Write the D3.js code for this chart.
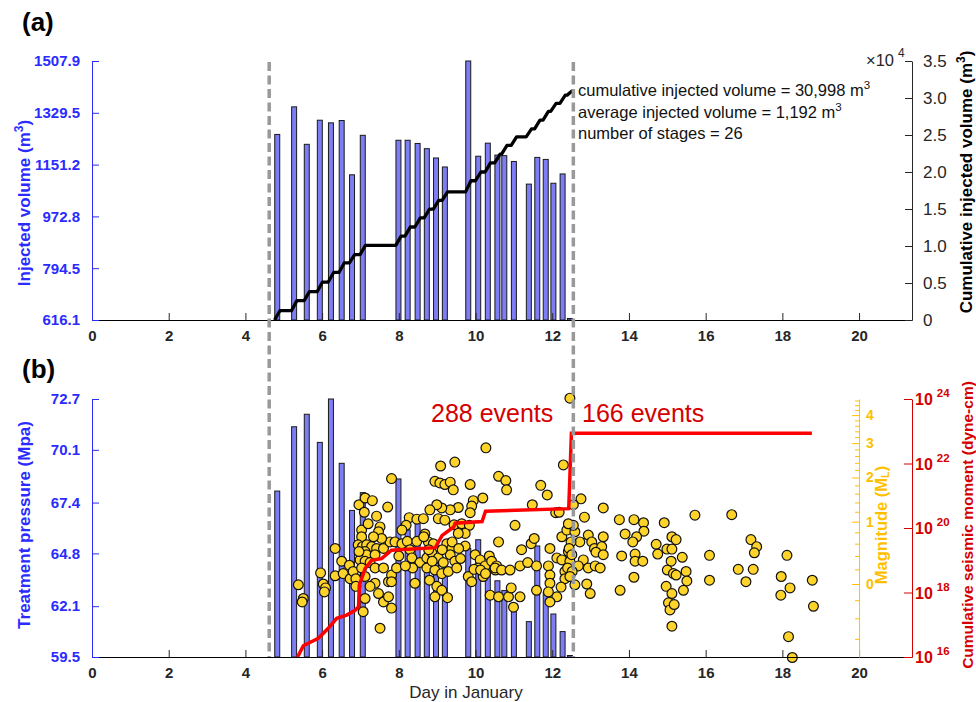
<!DOCTYPE html>
<html>
<head>
<meta charset="utf-8">
<script src="https://cdn.jsdelivr.net/npm/d3@7"></script>
<style>
  body { margin: 0; background: #fff; }
  text { font-family: "Liberation Sans", Arial, sans-serif; }
</style>
</head>
<body>
<div id="viz"></div>
<script>
// stage data (one entry per frac stage)
const stageDay = [4.83, 5.27, 5.60, 5.94, 6.23, 6.51, 6.78, 7.06, 7.99, 8.23, 8.49, 8.73, 8.97,
                  9.20, 9.81, 10.07, 10.32, 10.57, 10.75, 11.00, 11.39, 11.61, 11.83, 12.03, 12.27, 12.46];
const stageVolume = [1255, 1350, 1221, 1304, 1295, 1303, 1116, 1252, 1235, 1235, 1224, 1206, 1174,
                     1143, 1507.9, 1180, 1225, 1184, 1182, 1162, 1084, 1176, 1169, 1087, 1119, 616.1];
const stagePressure = [67.99, 71.28, 71.92, 70.48, 72.70, 69.41, 67.00, 67.91, 68.61, 66.0, 66.4, 65.0, 64.3,
                       64.0, 65.06, 65.50, 64.3, 63.4, 62.9, 62.2, 61.31, 65.18, 62.8, 61.7, 60.8, 59.5];

// seismic events: day and local magnitude
const eventDay = [
  5.38,5.51,5.48,5.96,6.03,6.09,6.06,6.34,6.34,6.51,6.55,6.71,6.73,6.81,6.88,6.96,7.12,7.31,7.10,7.71,
  7.81,7.42,7.03,7.20,7.51,7.47,7.03,6.94,7.05,7.16,7.29,7.12,7.42,7.60,7.77,7.55,7.34,7.16,7.38,6.99,
  7.12,7.25,7.03,7.38,7.60,7.12,7.38,7.25,7.73,7.47,7.60,7.73,7.12,7.07,7.51,7.81,7.81,6.96,6.88,
  10.27,9.09,9.46,8.94,9.07,9.20,9.34,9.42,9.86,10.19,9.94,9.90,9.86,9.55,9.34,9.12,8.99,8.81,9.03,9.20,
  9.44,9.64,9.84,9.73,9.55,8.27,8.47,8.64,8.19,8.08,7.90,8.08,8.22,8.47,8.68,8.77,8.90,9.25,9.73,9.38,
  8.29,8.34,8.55,8.73,8.86,9.03,9.16,9.34,9.46,9.61,8.73,8.94,9.12,9.29,9.51,8.36,7.94,7.81,8.42,8.80,
  8.99,9.12,8.94,9.27,9.81,9.90,9.99,10.12,10.07,10.25,10.36,10.42,10.55,10.20,10.38,10.60,10.60,10.60,
  9.96,10.13,10.26,10.52,8.87,8.17,8.00,8.78,9.13,8.65,9.39,9.56,
  12.46,10.79,10.81,11.70,11.87,11.48,12.29,12.09,12.18,12.75,12.55,12.84,13.33,11.03,11.20,11.45,11.53,11.94,12.25,12.38,
  12.59,12.72,12.94,13.03,13.10,13.29,13.33,12.12,12.25,12.42,12.46,12.81,12.68,12.94,13.12,13.25,10.51,10.68,10.90,11.16,
  11.36,11.59,11.90,11.94,12.33,12.33,11.94,12.23,12.59,12.90,12.99,10.86,10.99,11.16,10.93,11.59,11.90,12.12,11.94,
  12.49,12.44,12.51,12.40,12.52,12.46,12.55,12.42,
  13.75,14.13,14.38,14.39,14.20,14.10,13.90,14.92,15.72,16.68,15.12,15.23,14.71,14.99,15.12,14.75,13.81,14.16,14.16,14.36,
  15.10,15.39,16.10,17.18,17.33,17.27,18.12,15.00,15.16,15.49,15.23,15.51,15.42,14.97,15.12,15.03,15.07,15.18,15.12,14.13,
  13.77,16.10,16.85,17.24,17.05,17.97,18.20,17.96,18.78,18.81,18.16,18.26,13.14,13.33
];
const eventMag = [
  -0.01,-0.18,-0.22,0.15,0.00,-0.05,-0.10,0.52,0.11,0.32,0.14,0.26,0.07,0.17,0.07,1.35,1.50,1.44,1.19,1.30,
  1.97,1.11,0.84,0.96,0.90,0.81,0.72,0.58,0.55,0.58,0.55,0.47,0.52,0.52,0.63,0.69,0.72,0.42,0.42,0.34,
  0.32,0.30,0.22,0.22,0.22,0.10,0.01,-0.03,0.03,-0.12,-0.22,-0.16,-0.18,-0.33,-0.50,-0.29,0.12,0.47,-0.03,
  2.85,2.31,2.42,1.90,1.86,1.82,1.88,1.69,1.82,1.50,1.44,1.32,1.18,1.29,1.24,1.28,1.35,1.24,1.06,1.03,
  0.94,0.96,0.93,0.78,0.78,1.08,1.05,1.06,0.93,0.84,0.63,0.60,0.64,0.64,0.77,0.63,0.60,0.60,0.56,0.52,
  0.50,0.37,0.30,0.37,0.45,0.37,0.30,0.42,0.32,0.36,0.22,0.19,0.14,0.17,0.22,0.22,0.22,0.03,0.01,0.05,
  -0.03,-0.08,-0.16,-0.17,0.10,0.03,0.42,0.34,0.22,0.25,0.40,0.32,0.25,0.10,-0.14,-0.16,0.63,2.03,
  0.20,0.19,0.14,0.19,0.32,0.25,0.40,0.50,0.50,0.72,0.63,0.52,
  4.70,1.92,1.69,1.80,1.57,1.35,2.34,1.18,1.19,1.48,1.35,1.09,1.28,0.93,0.50,0.60,0.69,0.52,0.72,0.84,
  0.81,0.63,0.75,0.63,0.52,0.55,0.72,0.37,0.34,0.47,0.32,0.34,0.25,0.22,0.25,0.22,0.22,0.19,0.19,0.25,
  0.30,0.25,0.25,0.12,0.17,0.07,0.01,-0.04,-0.01,0.00,-0.12,-0.16,-0.28,-0.16,-0.05,-0.08,-0.10,-0.16,-0.22,
  0.63,0.52,0.42,0.22,0.17,0.10,0.93,0.96,
  1.04,1.04,0.98,0.82,0.72,0.63,0.77,0.98,1.13,1.14,0.72,0.67,0.59,0.51,0.51,0.43,0.40,0.43,0.32,0.32,
  0.32,0.38,0.41,0.67,0.55,0.45,0.41,0.19,0.14,0.17,0.12,0.04,-0.08,-0.03,-0.12,-0.23,-0.31,-0.25,-0.48,0.09,
  -0.08,0.05,0.20,0.20,0.03,0.10,-0.05,-0.14,0.05,-0.27,-0.58,-0.76,0.46,0.42
];

// cumulative seismic moment (log10 dyne-cm)
const momentDay = [5.36, 5.51, 5.90, 6.16, 6.38, 6.64, 6.86, 6.95, 6.97, 7.12, 7.29, 7.55, 7.81,
                   8.95, 9.13, 9.43, 9.47, 10.17, 10.26, 12.43, 12.50, 18.77];
const momentLog = [16.0, 16.35, 16.58, 16.89, 17.2, 17.3, 17.45, 17.56, 18.23, 18.74, 19.0, 19.05, 19.31,
                   19.39, 19.77, 20.03, 20.15, 20.2, 20.52, 20.6, 22.94, 22.94];

// reference lines and tick labels
const dashDays = [4.62, 12.55];
const dayTicks = [0, 2, 4, 6, 8, 10, 12, 14, 16, 18, 20];
const volTicks = [616.1, 794.5, 972.8, 1151.2, 1329.5, 1507.9];
const cumTicks = [0, 5000, 10000, 15000, 20000, 25000, 30000, 35000];
const cumTickLabels = ["0", "0.5", "1.0", "1.5", "2.0", "2.5", "3.0", "3.5"];
const presTicks = [59.5, 62.1, 64.8, 67.4, 70.1, 72.7];
const magTicks = [0, 1, 2, 3, 4];
const magMinorTicks = [-0.6, -0.4, -0.2, 0.2, 0.4, 0.6, 0.8, 1.2, 1.4, 1.6, 1.8, 2.2, 2.4, 2.6, 2.8,
                       3.2, 3.4, 3.6, 3.8, 4.2, 4.4, 4.6];
const momentTickExp = [16, 18, 20, 22, 24];
const annotLines = [["cumulative injected volume = 30,998 m", "3"],
                    ["average injected volume = 1,192 m", "3"],
                    ["number of stages = 26", ""]];

const width = 976, height = 702;
const blue = "#2b2bff", barFill = "#7d7df5", red = "#ff0000", redText = "#d40000",
      gold = "#ffbf00", dotFill = "#ffd42a", ink = "#262626";
const magOffset = 2;   // magnitude axis is logarithmic in (M + 2)
const halfBar = 0.065, rampHalf = 0.07;

const svg = d3.select("#viz").append("svg")
  .attr("width", width).attr("height", height);

// shared x scale
const x = d3.scaleLinear().domain([0, 21.38]).range([92, 912]);

// panel scales
const yVol = d3.scaleLinear().domain([616.1, 1507.9]).range([320, 61]);
const yCum = d3.scaleLinear().domain([0, 35000]).range([320, 61]);
const yPres = d3.scaleLinear().domain([59.5, 72.7]).range([657, 399]);
const yMag = d3.scaleLog().domain([-0.756 + magOffset, 4.664 + magOffset]).range([657, 399]);
const yMom = d3.scaleLog().domain([1e16, 1e24]).range([657, 399]);

function styleAxis(g, color, bold, size) {
  g.attr("font-family", "Liberation Sans, Arial, sans-serif")
   .attr("font-size", size || 15)
   .attr("font-weight", bold ? "bold" : "normal");
  g.select(".domain").attr("stroke", color).attr("stroke-width", 1);
  g.selectAll(".tick line").attr("stroke", color);
  g.selectAll(".tick text").attr("fill", color);
  return g;
}

// ---------- panel (a) ----------
svg.append("g").selectAll("rect")
  .data(stageDay)
  .join("rect")
  .attr("x", d => x(d - halfBar))
  .attr("width", x(2 * halfBar) - x(0))
  .attr("y", (d, i) => Math.min(yVol(stageVolume[i]), 318.5))
  .attr("height", (d, i) => Math.max(320 - yVol(stageVolume[i]), 1.5))
  .attr("fill", barFill)
  .attr("stroke", "#1a1a1a")
  .attr("stroke-width", 1);

// cumulative volume as ramps through each stage
const cum = d3.cumsum(stageVolume);
const cumPts = [];
stageDay.forEach((d, i) => {
  cumPts.push([d - rampHalf, i ? cum[i - 1] : 0]);
  cumPts.push([d + rampHalf, cum[i]]);
});
svg.append("path")
  .datum(cumPts)
  .attr("fill", "none")
  .attr("stroke", "#000")
  .attr("stroke-width", 3.3)
  .attr("stroke-linejoin", "round")
  .attr("d", d3.line().x(d => x(d[0])).y(d => yCum(d[1])));

const xAxisA = styleAxis(svg.append("g")
  .attr("transform", "translate(0,320)")
  .call(d3.axisBottom(x).tickValues(dayTicks).tickSizeInner(-7).tickSizeOuter(0).tickPadding(10)),
  ink, true);
xAxisA.select(".domain").attr("stroke", "#000");

styleAxis(svg.append("g")
  .attr("transform", "translate(92,0)")
  .call(d3.axisLeft(yVol).tickValues(volTicks).tickFormat(d3.format(".1f"))
    .tickSizeInner(-7).tickSizeOuter(0).tickPadding(12)),
  blue, true);

styleAxis(svg.append("g")
  .attr("transform", "translate(912,0)")
  .call(d3.axisRight(yCum).tickValues(cumTicks).tickFormat((d, i) => cumTickLabels[i])
    .tickSizeInner(-7).tickSizeOuter(0).tickPadding(11)),
  ink, false, 17);

// x10^4 multiplier
const mult = svg.append("text").attr("x", 866).attr("y", 66)
  .attr("font-size", 16.5).attr("fill", ink).text("\u00d710");
mult.append("tspan").attr("dx", 4).attr("dy", -9).attr("font-size", 12).text("4");

// annotation
annotLines.forEach((l, i) => {
  const t = svg.append("text").attr("x", 578).attr("y", 96 + i * 21.5)
    .attr("font-size", 16.5).attr("fill", "#111").text(l[0]);
  if (l[1]) t.append("tspan").attr("dy", -7).attr("font-size", 11.5).text(l[1]);
});

// axis titles panel (a)
const tA = svg.append("text")
  .attr("transform", "translate(29.5,203) rotate(-90)")
  .attr("text-anchor", "middle").attr("font-size", 17).attr("font-weight", "bold")
  .attr("fill", blue).text("Injected volume (m");
tA.append("tspan").attr("dy", -7).attr("font-size", 12).text("3");
tA.append("tspan").attr("dy", 7).text(")");

const tC = svg.append("text")
  .attr("transform", "translate(972,182) rotate(-90)")
  .attr("text-anchor", "middle").attr("font-size", 17).attr("font-weight", "bold")
  .attr("fill", "#000").text("Cumulative injected volume (m");
tC.append("tspan").attr("dy", -7).attr("font-size", 12).text("3");
tC.append("tspan").attr("dy", 7).text(")");

svg.append("text").attr("x", 22).attr("y", 31)
  .attr("font-size", 26).attr("font-weight", "bold").attr("fill", "#000").text("(a)");

// ---------- panel (b) ----------
svg.append("g").selectAll("rect")
  .data(stageDay)
  .join("rect")
  .attr("x", d => x(d - halfBar))
  .attr("width", x(2 * halfBar) - x(0))
  .attr("y", (d, i) => Math.min(yPres(stagePressure[i]), 655.5))
  .attr("height", (d, i) => Math.max(657 - yPres(stagePressure[i]), 1.5))
  .attr("fill", barFill)
  .attr("stroke", "#1a1a1a")
  .attr("stroke-width", 1);

svg.append("g").selectAll("circle")
  .data(eventDay)
  .join("circle")
  .attr("cx", d => x(d))
  .attr("cy", (d, i) => yMag(eventMag[i] + magOffset))
  .attr("r", 4.9)
  .attr("fill", dotFill)
  .attr("stroke", "#111")
  .attr("stroke-width", 1.2);

svg.append("path")
  .datum(momentDay.map((d, i) => [d, Math.pow(10, momentLog[i])]))
  .attr("fill", "none")
  .attr("stroke", red)
  .attr("stroke-width", 3.5)
  .attr("d", d3.line().x(d => x(d[0])).y(d => yMom(d[1])));

styleAxis(svg.append("g")
  .attr("transform", "translate(0,657)")
  .call(d3.axisBottom(x).tickValues(dayTicks).tickSizeInner(-7).tickSizeOuter(0).tickPadding(10)),
  ink, true)
  .select(".domain").attr("stroke", "#000");

styleAxis(svg.append("g")
  .attr("transform", "translate(92,0)")
  .call(d3.axisLeft(yPres).tickValues(presTicks).tickFormat(d3.format(".1f"))
    .tickSizeInner(-7).tickSizeOuter(0).tickPadding(12)),
  blue, true);

// magnitude axis at day 20
const magX = x(20);
const minorG = svg.append("g")
  .attr("transform", `translate(${magX},0)`)
  .call(d3.axisRight(yMag).tickValues(magMinorTicks.map(m => m + magOffset))
    .tickFormat("").tickSizeInner(-4).tickSizeOuter(0));
minorG.select(".domain").remove();
minorG.selectAll(".tick line").attr("stroke", gold);

styleAxis(svg.append("g")
  .attr("transform", `translate(${magX},0)`)
  .call(d3.axisRight(yMag).tickValues(magTicks.map(m => m + magOffset))
    .tickFormat(d => Math.round(d - magOffset)).tickSizeInner(-7).tickSizeOuter(0).tickPadding(7)),
  gold, true, 14);

const tM = svg.append("text")
  .attr("transform", `translate(886.5,525) rotate(-90)`)
  .attr("text-anchor", "middle").attr("font-size", 16.5).attr("font-weight", "bold")
  .attr("fill", gold).text("Magnitude (M");
tM.append("tspan").attr("dy", 2).attr("font-size", 11).text("L");
tM.append("tspan").attr("dy", -2).text(")");

// moment axis
styleAxis(svg.append("g")
  .attr("transform", "translate(912,0)")
  .call(d3.axisRight(yMom).tickValues(momentTickExp.map(e => Math.pow(10, e)))
    .tickFormat("").tickSizeInner(-8).tickSizeOuter(0)),
  redText, true);
momentTickExp.forEach(e => {
  const t = svg.append("text").attr("x", 915).attr("y", yMom(Math.pow(10, e)) + 6)
    .attr("font-size", 16).attr("font-weight", "bold").attr("fill", redText).text("10");
  t.append("tspan").attr("dx", 4).attr("dy", -8).attr("font-size", 11.5).text(e);
});

svg.append("text")
  .attr("transform", "translate(973,525) rotate(-90)")
  .attr("text-anchor", "middle").attr("font-size", 15.5).attr("font-weight", "bold")
  .attr("fill", redText).text("Cumulative seismic moment (dyne-cm)");

svg.append("text")
  .attr("transform", "translate(29.5,525) rotate(-90)")
  .attr("text-anchor", "middle").attr("font-size", 17).attr("font-weight", "bold")
  .attr("fill", blue).text("Treatment pressure (Mpa)");

svg.append("text").attr("x", 466).attr("y", 698)
  .attr("text-anchor", "middle").attr("font-size", 17).attr("fill", ink).text("Day in January");

svg.append("text").attr("x", 431).attr("y", 421.5)
  .attr("font-size", 25).attr("fill", redText).text("288 events");
svg.append("text").attr("x", 582).attr("y", 421.5)
  .attr("font-size", 25).attr("fill", redText).text("166 events");

svg.append("text").attr("x", 22).attr("y", 378)
  .attr("font-size", 26).attr("font-weight", "bold").attr("fill", "#000").text("(b)");

// stage window markers across both panels
svg.append("g").selectAll("line")
  .data(dashDays)
  .join("line")
  .attr("x1", d => x(d)).attr("x2", d => x(d))
  .attr("y1", 62).attr("y2", 657)
  .attr("stroke", "#999")
  .attr("stroke-width", 3.5)
  .attr("stroke-dasharray", "9,4.5");
</script>
</body>
</html>
